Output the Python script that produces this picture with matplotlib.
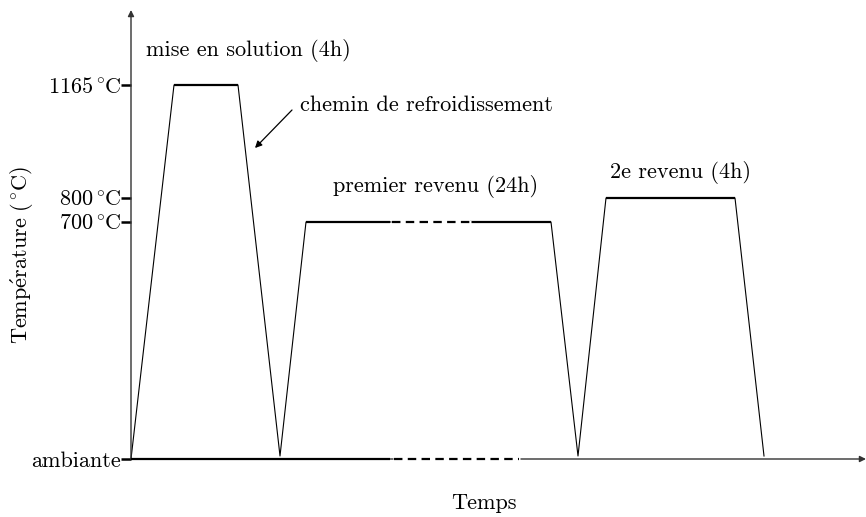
import matplotlib
matplotlib.use("Agg")
from matplotlib import pyplot as plt

plt.rcParams["font.family"] = ["cmr10", "DejaVu Serif"]
plt.rcParams["mathtext.fontset"] = "cm"
plt.rcParams["axes.unicode_minus"] = False

# schematic units (origin = ambient at time zero)
level_values = [0, 237, 261, 374]
level_labels = ["ambiante", r"$\mathrm{700^\circ\!C}$", r"$\mathrm{800^\circ\!C}$",
                r"$\mathrm{1165^\circ\!C}$"]

# thin temperature path
path_x = [0, 43, 107, 149, 175, 420, 447, 475, 604, 633]
path_y = [0, 374, 374, 3, 237, 237, 3, 261, 261, 3]

# thick holding segments: (start, end, level)
hold_start = [43, 175, 339, 475, 0]
hold_end = [107, 259, 420, 604, 259]
hold_level = [374, 237, 237, 261, 0]

# dashed "time skip" segments
skip_start = [261, 263]
skip_end = [339, 388]
skip_level = [237, 0]

FS = 16
W, H = 866, 517
fig = plt.figure(figsize=(W / 100, H / 100), dpi=100)
ax = fig.add_axes([131 / W, 58 / H, 735 / W, 449 / H])
ax.set_xlim(0, 735)
ax.set_ylim(0, 449)
for s in ax.spines.values():
    s.set_visible(False)

# axes with arrow heads
arrow = dict(arrowstyle="-|>", lw=1.0, color="#333333", mutation_scale=9, shrinkA=0, shrinkB=0)
ax.annotate("", xy=(1, 0), xytext=(0, 0), xycoords="axes fraction", arrowprops=arrow)
ax.annotate("", xy=(0, 1), xytext=(0, 0), xycoords="axes fraction", arrowprops=arrow)

ax.plot(path_x, path_y, color="k", lw=0.8, clip_on=False)
for x0, x1, y in zip(hold_start, hold_end, hold_level):
    ax.plot([x0, x1], [y, y], color="k", lw=1.6, solid_capstyle="butt", clip_on=False, zorder=4)
for x0, x1, y in zip(skip_start, skip_end, skip_level):
    # blank out the line under the dashes, then draw the dashes
    ax.plot([x0 - 1, x1 + 1], [y, y], color="white", lw=2.2, solid_capstyle="butt",
            clip_on=False, zorder=4)
    ax.plot([x0, x1], [y, y], color="k", lw=1.6, ls=(0, (3.8, 2.4)), clip_on=False, zorder=5)

ax.set_xticks([])
ax.set_yticks(level_values, level_labels)
ax.tick_params(axis="y", direction="out", length=7, width=1.8, pad=0, labelsize=FS)

ax.text(15, 409, "mise en solution (4h)", fontsize=FS, va="center")
ax.text(169, 354, "chemin de refroidissement", fontsize=FS, va="center")
ax.annotate("", xy=(124, 311), xytext=(161, 349),
            arrowprops=dict(arrowstyle="-|>", lw=0.9, color="k", mutation_scale=10, shrinkA=0, shrinkB=0))
ax.text(202, 273, "premier revenu (24h)", fontsize=FS, va="center")
ax.text(479, 287, "2e revenu (4h)", fontsize=FS, va="center")

fig.text(484 / W, 1 - 503 / H, "Temps", fontsize=FS, ha="center", va="center")
fig.text(22 / W, 1 - 255 / H, r"$\mathrm{Temp\acute{e}rature\ (^\circ\!C)}$", fontsize=FS,
         ha="center", va="center", rotation=90)

fig.savefig("out.png", dpi=100)
